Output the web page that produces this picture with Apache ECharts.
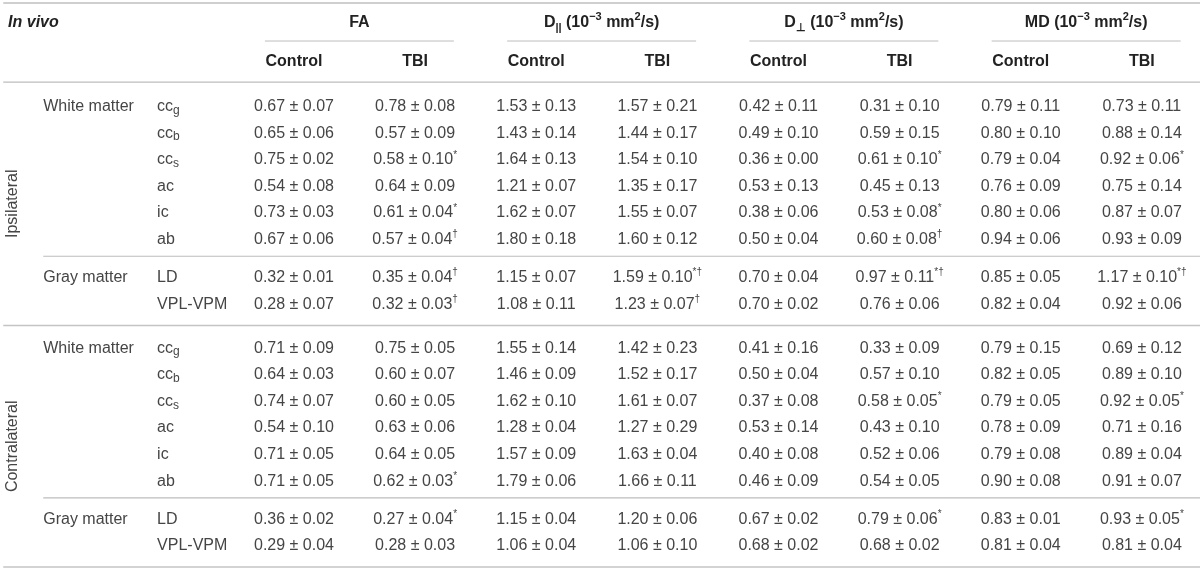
<!DOCTYPE html>
<html>
<head>
<meta charset="utf-8">
<script src="https://cdn.jsdelivr.net/npm/echarts@6/dist/echarts.min.js"></script>
<style>
html,body{margin:0;padding:0;background:#fff;}
#c{width:1200px;height:570px;}
</style>
</head>
<body>
<div id="c"></div>
<script>
// ---------------- DATA ----------------
const cornerLabel = 'In vivo';
const sides = ['Ipsilateral', 'Contralateral'];
const regions = ['White matter', 'Gray matter'];
const structureNames = ['cc', 'cc', 'cc', 'ac', 'ic', 'ab', 'LD', 'VPL-VPM'];
const structureSubs  = ['g', 'b', 's', '', '', '', '', ''];
const structureRegion = [0, 0, 0, 0, 0, 0, 1, 1];
const groups = ['Control', 'TBI'];
// measure headers (rich text: D with subscript, units with superscripts)
const measureLabels = [
  '{b|FA}',
  '{b|D}{bsub|||}{b| (10}{bsup|−3}{b| mm}{bsup|2}{b|/s)}',
  '{b|D}{bsub|⊥}{b| (10}{bsup|−3}{b| mm}{bsup|2}{b|/s)}',
  '{b|MD (10}{bsup|−3}{b| mm}{bsup|2}{b|/s)}'
];

// rows: Ipsilateral (8 structures) then Contralateral (8 structures)
const FA_control_mean = [0.67,0.65,0.75,0.54,0.73,0.67,0.32,0.28, 0.71,0.64,0.74,0.54,0.71,0.71,0.36,0.29];
const FA_control_sd   = [0.07,0.06,0.02,0.08,0.03,0.06,0.01,0.07, 0.09,0.03,0.07,0.10,0.05,0.05,0.02,0.04];
const FA_tbi_mean     = [0.78,0.57,0.58,0.64,0.61,0.57,0.35,0.32, 0.75,0.60,0.60,0.63,0.64,0.62,0.27,0.28];
const FA_tbi_sd       = [0.08,0.09,0.10,0.09,0.04,0.04,0.04,0.03, 0.05,0.07,0.05,0.06,0.05,0.03,0.04,0.03];
const FA_tbi_sig      = ['','','*','','*','†','†','†', '','','','','','*','*',''];

const Dpar_control_mean = [1.53,1.43,1.64,1.21,1.62,1.80,1.15,1.08, 1.55,1.46,1.62,1.28,1.57,1.79,1.15,1.06];
const Dpar_control_sd   = [0.13,0.14,0.13,0.07,0.07,0.18,0.07,0.11, 0.14,0.09,0.10,0.04,0.09,0.06,0.04,0.04];
const Dpar_tbi_mean     = [1.57,1.44,1.54,1.35,1.55,1.60,1.59,1.23, 1.42,1.52,1.61,1.27,1.63,1.66,1.20,1.06];
const Dpar_tbi_sd       = [0.21,0.17,0.10,0.17,0.07,0.12,0.10,0.07, 0.23,0.17,0.07,0.29,0.04,0.11,0.06,0.10];
const Dpar_tbi_sig      = ['','','','','','','*†','†', '','','','','','','',''];

const Dperp_control_mean = [0.42,0.49,0.36,0.53,0.38,0.50,0.70,0.70, 0.41,0.50,0.37,0.53,0.40,0.46,0.67,0.68];
const Dperp_control_sd   = [0.11,0.10,0.00,0.13,0.06,0.04,0.04,0.02, 0.16,0.04,0.08,0.14,0.08,0.09,0.02,0.02];
const Dperp_tbi_mean     = [0.31,0.59,0.61,0.45,0.53,0.60,0.97,0.76, 0.33,0.57,0.58,0.43,0.52,0.54,0.79,0.68];
const Dperp_tbi_sd       = [0.10,0.15,0.10,0.13,0.08,0.08,0.11,0.06, 0.09,0.10,0.05,0.10,0.06,0.05,0.06,0.02];
const Dperp_tbi_sig      = ['','','*','','*','†','*†','', '','','*','','','','*',''];

const MD_control_mean = [0.79,0.80,0.79,0.76,0.80,0.94,0.85,0.82, 0.79,0.82,0.79,0.78,0.79,0.90,0.83,0.81];
const MD_control_sd   = [0.11,0.10,0.04,0.09,0.06,0.06,0.05,0.04, 0.15,0.05,0.05,0.09,0.08,0.08,0.01,0.04];
const MD_tbi_mean     = [0.73,0.88,0.92,0.75,0.87,0.93,1.17,0.92, 0.69,0.89,0.92,0.71,0.89,0.91,0.93,0.81];
const MD_tbi_sd       = [0.11,0.14,0.06,0.14,0.07,0.09,0.10,0.06, 0.12,0.10,0.05,0.16,0.04,0.07,0.05,0.04];
const MD_tbi_sig      = ['','','*','','','','*†','', '','','*','','','','*',''];

// ---------------- TABLE ASSEMBLY ----------------
const columns = [
  {mean: FA_control_mean, sd: FA_control_sd, sig: null},
  {mean: FA_tbi_mean, sd: FA_tbi_sd, sig: FA_tbi_sig},
  {mean: Dpar_control_mean, sd: Dpar_control_sd, sig: null},
  {mean: Dpar_tbi_mean, sd: Dpar_tbi_sd, sig: Dpar_tbi_sig},
  {mean: Dperp_control_mean, sd: Dperp_control_sd, sig: null},
  {mean: Dperp_tbi_mean, sd: Dperp_tbi_sd, sig: Dperp_tbi_sig},
  {mean: MD_control_mean, sd: MD_control_sd, sig: null},
  {mean: MD_tbi_mean, sd: MD_tbi_sd, sig: MD_tbi_sig}
];
// column slots: 0 = side/region labels, 1 = structure labels, 2..9 = data columns
const nCols = 2 + columns.length;

// horizontal layout in column-width units
const X = {leftOverhang: 0.427, rightEnd: 0.48};
// vertical layout, in row-height units
const G = {
  topToHead1: 0.75, head1ToHead2: 1.47, underAboveHead2: 0.79, head2ToRule: 0.75,
  headRuleToRow: 0.92, sectionRuleToRow: 0.85, rowToInnerRule: 0.62, wmToGm: 1.42,
  rowToRule: 0.8, pad: 0.11
};
const topRule = 0;
const head1 = topRule + G.topToHead1;
const head2 = head1 + G.head1ToHead2;
const underline = head2 - G.underAboveHead2;
const headRule = head2 + G.head2ToRule;
const rowV = [], innerRules = [], sectionRules = [], sectionSpans = [], regionStart = [];
let cur = headRule + G.headRuleToRow;
let prevRule = headRule;
sides.forEach((side, s) => {
  structureNames.forEach((st, i) => {
    if (i > 0) {
      if (structureRegion[i] !== structureRegion[i - 1]) {
        innerRules.push(cur + G.rowToInnerRule);
        cur += G.wmToGm;
      } else cur += 1;
    }
    if (i === 0 || structureRegion[i] !== structureRegion[i - 1]) regionStart.push({region: structureRegion[i], v: cur});
    rowV.push(cur);
  });
  const rule = cur + G.rowToRule;
  sectionRules.push(rule);
  sectionSpans.push([prevRule, rule]);
  prevRule = rule;
  cur = rule + G.sectionRuleToRow;
});
const yMin = topRule - G.pad;
const yMax = sectionRules[sectionRules.length - 1] + G.pad;

const FONT = '"Liberation Sans", Arial, Helvetica, sans-serif';
const DATA_C = '#454545', HEAD_C = '#222';
const RICH = {
  v:    {fontFamily: FONT, fontSize: 16, fill: DATA_C, lineHeight: 20},
  vsup: {fontFamily: FONT, fontSize: 10, fill: DATA_C, lineHeight: 10, verticalAlign: 'top'},
  vsub: {fontFamily: FONT, fontSize: 12, fill: DATA_C, lineHeight: 12, verticalAlign: 'bottom'},
  b:    {fontFamily: FONT, fontSize: 16, fontWeight: 'bold', fill: HEAD_C, lineHeight: 22},
  bi:   {fontFamily: FONT, fontSize: 16, fontWeight: 'bold', fontStyle: 'italic', fill: HEAD_C, lineHeight: 22},
  bsup: {fontFamily: FONT, fontSize: 11, fontWeight: 'bold', fill: HEAD_C, lineHeight: 11, verticalAlign: 'top'},
  bsub: {fontFamily: FONT, fontSize: 11, fontWeight: 'bold', fill: HEAD_C, lineHeight: 11, verticalAlign: 'bottom'}
};

// text cells
const cells = [];
cells.push({col: 0, v: head1, text: '{bi|' + cornerLabel + '}', align: 'left', dx: -0.36});
measureLabels.forEach((m, i) => {
  cells.push({col: 2 + 2 * i, v: head1, text: m, align: 'center', dx: 0.54});
  groups.forEach((g, j) => cells.push({col: 2 + 2 * i + j, v: head2, text: '{b|' + g + '}', align: 'center', dx: 0}));
});
sides.forEach((side, s) => {
  const sp = sectionSpans[s];
  cells.push({col: 0, v: (sp[0] + sp[1]) / 2, text: '{v|' + side + '}', align: 'center', dx: -0.32, rotate: true});
});
regionStart.forEach(r => cells.push({col: 0, v: r.v, text: '{v|' + regions[r.region] + '}', align: 'left', dx: -0.07}));
rowV.forEach((v, r) => {
  const k = r % structureNames.length;
  const sub = structureSubs[k] ? '{vsub|' + structureSubs[k] + '}' : '';
  cells.push({col: 1, v: v, text: '{v|' + structureNames[k] + '}' + sub, align: 'left', dx: -0.13});
  columns.forEach((c, ci) => {
    const s = c.sig && c.sig[r] ? '{vsup|' + c.sig[r] + '}' : '';
    cells.push({col: 2 + ci, v: v, text: '{v|' + c.mean[r].toFixed(2) + ' ± ' + c.sd[r].toFixed(2) + '}' + s, align: 'center', dx: 0});
  });
});

// rules
const rules = [];
rules.push({kind: 'full', v: topRule, w: 2, color: '#cfcfcf'});
measureLabels.forEach((m, i) => rules.push({kind: 'group', col: 2 + 2 * i, v: underline, w: 1, color: '#bdbdbd'}));
rules.push({kind: 'full', v: headRule, w: 1.2, color: '#bdbdbd'});
innerRules.forEach(v => rules.push({kind: 'inner', v: v, w: 1.2, color: '#bdbdbd'}));
sectionRules.forEach(v => rules.push({kind: 'full', v: v, w: 1.5, color: '#c4c4c4'}));

// ---------------- CHART ----------------
const chart = echarts.init(document.getElementById('c'));
chart.setOption({
  animation: false,
  grid: {left: 0, top: 0, right: 0, bottom: 0},
  xAxis: {type: 'value', min: -X.leftOverhang, max: nCols - 1 + X.rightEnd, show: false},
  yAxis: {type: 'value', inverse: true, min: yMin, max: yMax, show: false},
  series: [
    {
      type: 'custom',
      data: rules.map(r => [r.col || 0, r.v]),
      renderItem: function (params, api) {
        const r = rules[params.dataIndex];
        const w = api.size([1, 0])[0];
        const cs = params.coordSys;
        const p0 = api.coord([0, r.v]);
        let x1, x2;
        if (r.kind === 'full') { x1 = p0[0] - 0.4 * w; x2 = cs.x + cs.width; }
        else if (r.kind === 'inner') { x1 = p0[0] - 0.07 * w; x2 = cs.x + cs.width; }
        else { x1 = api.coord([r.col, r.v])[0] - 0.24 * w; x2 = api.coord([r.col + 1, r.v])[0] + 0.32 * w; }
        return {type: 'line', shape: {x1: x1, y1: p0[1], x2: x2, y2: p0[1]},
                style: {stroke: r.color, lineWidth: r.w}};
      }
    },
    {
      type: 'custom',
      data: cells.map(c => [c.col, c.v]),
      renderItem: function (params, api) {
        const c = cells[params.dataIndex];
        const w = api.size([1, 0])[0];
        const p = api.coord([c.col, c.v]);
        const el = {
          type: 'text', x: p[0] + c.dx * w, y: p[1],
          style: {text: c.text, rich: RICH, align: c.align, verticalAlign: 'middle',
                  fontFamily: FONT, fontSize: 16, fill: DATA_C}
        };
        if (c.rotate) el.rotation = Math.PI / 2;
        return el;
      }
    }
  ]
});
</script>
</body>
</html>
